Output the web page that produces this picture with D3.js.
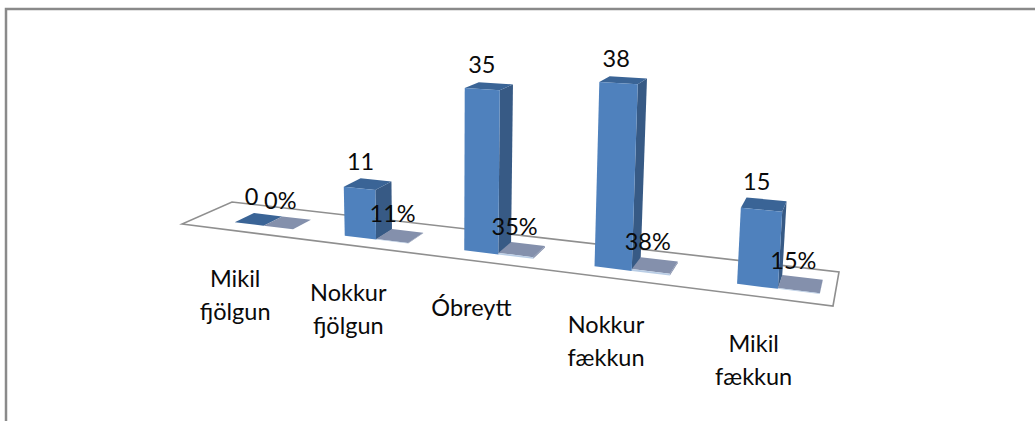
<!DOCTYPE html>
<html>
<head>
<meta charset="UTF-8">
<title>Chart</title>
<script src="https://cdnjs.cloudflare.com/ajax/libs/d3/7.8.5/d3.min.js"></script>
<style>
  html, body { margin: 0; padding: 0; background: #fff; }
  svg { display: block; }
  text { font-family: Lato, "Open Sans", sans-serif; font-size: 23.5px; fill: #0a0a0a; }
</style>
</head>
<body>
<div id="chart"></div>
<script>
const categories = [['Mikil', 'fjölgun'], ['Nokkur', 'fjölgun'], ['Óbreytt'], ['Nokkur', 'fækkun'], ['Mikil', 'fækkun']]
const counts = [0, 11, 35, 38, 15]
const percents = [0.00, 0.11, 0.35, 0.38, 0.15]
const percentLabels = ['0%', '11%', '35%', '38%', '15%']

const width = 1035, height = 421

const svg = d3.select('#chart').append('svg')
  .attr('width', width)
  .attr('height', height)

// frame, only top and left are in the picture
svg.append('path')
  .attr('d', d3.line()([[6, height], [6, 9], [width, 9]]))
  .attr('fill', 'none')
  .attr('stroke', '#8a8a8a')
  .attr('stroke-width', 2.5)

// floor corners on screen: front left, front right, back right, back left
const floor = [[182, 224], [833, 306], [839, 272], [232, 202]]

// homography from the unit square (u along the floor, v into the depth)
const makeProjection = (q) => {
  const [p0, p1, p2, p3] = q
  const sx = p0[0] - p1[0] + p2[0] - p3[0]
  const sy = p0[1] - p1[1] + p2[1] - p3[1]
  const dx1 = p1[0] - p2[0], dx2 = p3[0] - p2[0]
  const dy1 = p1[1] - p2[1], dy2 = p3[1] - p2[1]
  const den = dx1 * dy2 - dx2 * dy1
  const g = (sx * dy2 - dx2 * sy) / den
  const h = (dx1 * sy - sx * dy1) / den
  return (u, v) => {
    const w = 1 + g * u + h * v
    return {
      x: (p0[0] + (p1[0] - p0[0] + g * p1[0]) * u + (p3[0] - p0[0] + h * p3[0]) * v) / w,
      y: (p0[1] + (p1[1] - p0[1] + g * p1[1]) * u + (p3[1] - p0[1] + h * p3[1]) * v) / w,
      w
    }
  }
}
const project = makeProjection(floor)

// scales
const catIdx = d3.range(categories.length)
const x = d3.scaleBand().domain(catIdx).range([0, 1])
const xSeries = d3.scaleBand().domain(['count', 'percent']).range([0.073, 0.181])
const depth = d3.scaleLinear().domain([0, 1]).range([0.28, 0.68])
const y = d3.scaleLinear().domain([0, 1]).range([0, 4.3])       // pixels per value at w = 1
const lean = d3.scaleLinear().domain([345, 737]).range([-0.09, 0.25])  // verticals converge

// point in the chart: floor position u/v raised by value
const point = (u, v, value) => {
  const p = project(u, v)
  const rise = y(value) / p.w
  return [p.x + lean(p.x) * value, p.y - rise]
}

const face = (corners) => d3.line()(corners) + 'Z'

// floor
svg.append('path')
  .attr('d', face(floor))
  .attr('fill', '#fff')
  .attr('stroke', '#8f8f8f')
  .attr('stroke-width', 1.6)

const series = [
  { key: 'count', values: counts, labels: counts.map(String), front: '#4f81bd', side: '#375a85', top: '#3a6496' },
  { key: 'percent', values: percents, labels: percentLabels, front: '#b9cde5', side: '#8490ac', top: '#8490ac' }
]

const barsLayer = svg.append('g')
const labelsLayer = svg.append('g')

series.forEach(s => {
  const bars = barsLayer.selectAll('g.' + s.key)
    .data(catIdx)
    .join('g')
    .attr('class', s.key)

  const u0 = i => x(i) + xSeries(s.key)
  const u1 = i => u0(i) + xSeries.bandwidth()
  const vF = depth(0), vB = depth(1)

  bars.append('path')
    .attr('fill', s.side)
    .attr('d', i => face([point(u1(i), vF, 0), point(u1(i), vB, 0), point(u1(i), vB, s.values[i]), point(u1(i), vF, s.values[i])]))
  bars.append('path')
    .attr('fill', s.top)
    .attr('d', i => face([point(u0(i), vF, s.values[i]), point(u1(i), vF, s.values[i]), point(u1(i), vB, s.values[i]), point(u0(i), vB, s.values[i])]))
  bars.append('path')
    .attr('fill', s.front)
    .attr('d', i => face([point(u0(i), vF, 0), point(u1(i), vF, 0), point(u1(i), vF, s.values[i]), point(u0(i), vF, s.values[i])]))

  // data labels sit over the back of the top face
  labelsLayer.selectAll('text.' + s.key)
    .data(catIdx)
    .join('text')
    .attr('class', s.key)
    .attr('text-anchor', 'middle')
    .attr('x', i => (point(u0(i), vF, s.values[i])[0] + point(u1(i), vB, s.values[i])[0]) / 2 - 7)
    .attr('y', i => point(u1(i), vB, s.values[i])[1] - 11)
    .text(i => s.labels[i])
})

// category labels under the front edge
const catLabels = labelsLayer.selectAll('text.cat')
  .data(catIdx)
  .join('text')
  .attr('class', 'cat')
  .attr('text-anchor', 'middle')
  .attr('transform', i => {
    const p = project(x(i) + x.bandwidth() / 2, 0)
    return 'translate(' + p.x + ',' + (p.y + 56) + ')'
  })

catLabels.selectAll('tspan')
  .data(i => categories[i])
  .join('tspan')
  .attr('x', 0)
  .attr('dy', (d, j) => j ? 33 : 0)
  .text(d => d)
</script>
</body>
</html>
